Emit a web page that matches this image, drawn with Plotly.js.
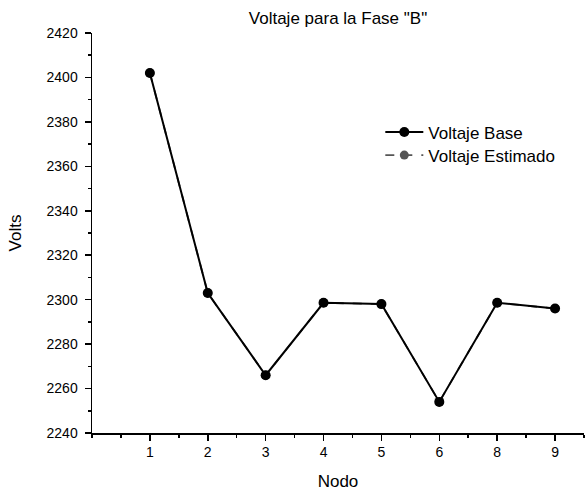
<!DOCTYPE html>
<html>
<head>
<meta charset="utf-8">
<script src="https://cdn.plot.ly/plotly-3.0.1.min.js"></script>
<style>html,body{margin:0;padding:0;background:#fff}#chart{width:585px;height:495px}</style>
</head>
<body>
<div id="chart"></div>
<script>
const nodos = ["1", "2", "3", "4", "5", "6", "8", "9"];
const voltajeBase = [2402, 2303, 2266, 2298.6, 2298, 2254, 2298.6, 2296];
const voltajeEstimado = [2402, 2303, 2266, 2298.6, 2298, 2254, 2298.6, 2296];

const xpos = nodos.map((_, i) => i + 1);
const minorX = [];
for (let v = 0; v <= nodos.length + 0.5; v += 0.5) minorX.push(v);

const font = "Liberation Sans, Arial, sans-serif";

const traces = [
  {
    x: xpos, y: voltajeEstimado, name: "Voltaje Estimado", legend: "legend2",
    type: "scatter", mode: "lines+markers",
    line: {color: "#555555", width: 1.8, dash: "dash"},
    marker: {color: "#555555", size: 9, symbol: "circle"}
  },
  {
    x: xpos, y: voltajeBase, name: "Voltaje Base", legend: "legend",
    type: "scatter", mode: "lines+markers",
    line: {color: "#000000", width: 2},
    marker: {color: "#000000", size: 10, symbol: "circle"}
  }
];

const legFont = {family: font, size: 17, color: "#000"};
const layout = {
  width: 585, height: 495,
  margin: {l: 92, r: 1, t: 33, b: 62},
  paper_bgcolor: "#fff", plot_bgcolor: "#fff",
  font: {family: font, size: 14, color: "#000"},
  showlegend: true,
  legend: {
    x: 0.586, y: 0.7512, xanchor: "left", yanchor: "middle",
    bgcolor: "rgba(0,0,0,0)", font: legFont, itemwidth: 38
  },
  legend2: {
    x: 0.586, y: 0.6937, xanchor: "left", yanchor: "middle",
    bgcolor: "rgba(0,0,0,0)", font: legFont, itemwidth: 38
  },
  title: {
    text: 'Voltaje para la Fase "B"',
    x: 0.5, xref: "paper", xanchor: "center",
    y: 0.963, yref: "container", yanchor: "middle",
    font: {family: font, size: 17, color: "#000"}
  },
  xaxis: {
    range: [0, nodos.length + 0.5],
    tickmode: "array", tickvals: xpos, ticktext: nodos,
    ticks: "outside", ticklen: 6, tickwidth: 1.5, tickcolor: "#000",
    showline: true, linecolor: "#000", linewidth: 1.5,
    showgrid: false, zeroline: false,
    tickfont: {family: font, size: 14, color: "#000"},
    minor: {tickmode: "array", tickvals: minorX, ticks: "outside", ticklen: 3, tickwidth: 1.5, tickcolor: "#000", showgrid: false},
    title: {text: "Nodo", font: {family: font, size: 17, color: "#000"}, standoff: 16}
  },
  yaxis: {
    range: [2240, 2420],
    tickmode: "linear", tick0: 2240, dtick: 20,
    ticks: "outside", ticklen: 6, tickwidth: 1.5, tickcolor: "#000",
    ticklabelstandoff: 4,
    showline: true, linecolor: "#000", linewidth: 1.5,
    showgrid: false, zeroline: false,
    tickfont: {family: font, size: 14, color: "#000"},
    minor: {dtick: 10, ticks: "outside", ticklen: 3, tickwidth: 1.5, tickcolor: "#000", showgrid: false},
    title: {text: "Volts", font: {family: font, size: 17, color: "#000"}, standoff: 20}
  }
};

Plotly.newPlot("chart", traces, layout, {displayModeBar: false, staticPlot: true});
</script>
</body>
</html>
